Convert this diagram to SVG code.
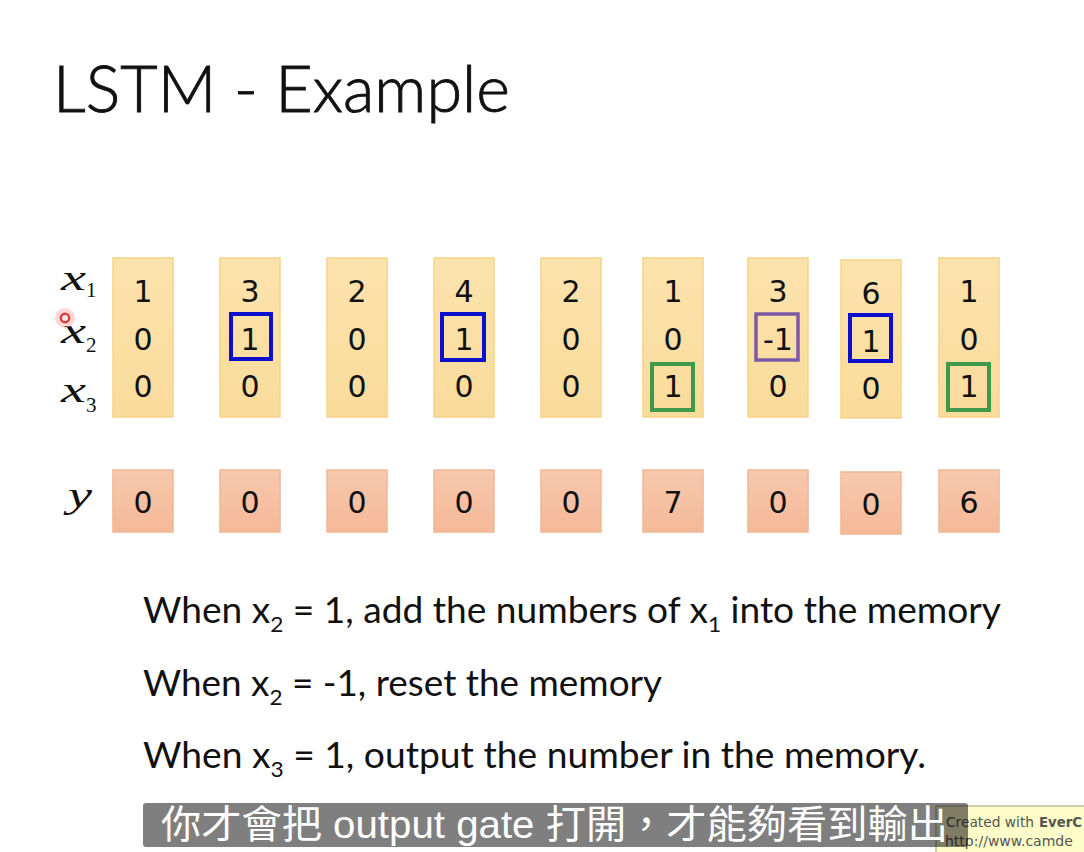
<svg xmlns="http://www.w3.org/2000/svg" width="1084" height="852" viewBox="0 0 1084 852">
<defs>
<linearGradient id="gy" x1="0" y1="0" x2="0" y2="1">
<stop offset="0" stop-color="#FCE3AD"/>
<stop offset="1" stop-color="#F9DB9B"/>
</linearGradient>
<linearGradient id="gs" x1="0" y1="0" x2="0" y2="1">
<stop offset="0" stop-color="#F8C8AD"/>
<stop offset="1" stop-color="#F4B998"/>
</linearGradient>
<style>
.cell{fill:url(#gy);stroke:#F6D384;stroke-width:1.5}
.ycell{fill:url(#gs);stroke:#EFB794;stroke-width:1.5}
.num{font-family:"DejaVu Sans","Liberation Sans",sans-serif;font-size:30px;fill:#111;text-anchor:middle}
.hb{fill:none;stroke:#0A10CC;stroke-width:4}
.hg{fill:none;stroke:#3C9A4A;stroke-width:4}
.hp{fill:none;stroke:#7E58A8;stroke-width:3.5}
.lab{font-family:"Liberation Serif",serif;font-style:italic;font-size:36px;fill:#111}
.sub{font-family:"Liberation Serif",serif;font-style:normal;font-size:21px;fill:#111}
.rule{font-family:Lato,"Open Sans","Liberation Sans",sans-serif;font-size:36px;fill:#111}
.rs{font-size:22px}
.wm{font-family:"DejaVu Sans",sans-serif;font-size:14px;fill:#555}
</style>
</defs>
<rect width="1084" height="852" fill="#FFFFFF"/>
<text x="53" y="112" font-family="Lato,'Open Sans','Liberation Sans',sans-serif" font-weight="300" font-size="66" fill="#111" stroke="#111" stroke-width="0.9" textLength="457" lengthAdjust="spacingAndGlyphs">LSTM - Example</text>
<g id="labels">
<text class="lab" x="61" y="290" textLength="25" lengthAdjust="spacingAndGlyphs">x</text><text class="sub" x="86" y="297">1</text>
<text class="lab" x="61" y="343" textLength="25" lengthAdjust="spacingAndGlyphs">x</text><text class="sub" x="86" y="351.5">2</text>
<text class="lab" x="61" y="402" textLength="25" lengthAdjust="spacingAndGlyphs">x</text><text class="sub" x="86" y="411.5">3</text>
<text class="lab" x="68" y="507" textLength="24" lengthAdjust="spacingAndGlyphs">y</text>
</g>
<g id="col1"><rect class="cell" x="113" y="258" width="60" height="159"/><text class="num" x="143" y="302">1</text><text class="num" x="143" y="350">0</text><text class="num" x="143" y="397">0</text></g>
<g id="col2"><rect class="cell" x="220" y="258" width="60" height="159"/><text class="num" x="250" y="302">3</text><text class="num" x="250" y="350">1</text><text class="num" x="250" y="397">0</text><rect class="hb" x="231" y="314" width="40" height="45"/></g>
<g id="col3"><rect class="cell" x="327" y="258" width="60" height="159"/><text class="num" x="357" y="302">2</text><text class="num" x="357" y="350">0</text><text class="num" x="357" y="397">0</text></g>
<g id="col4"><rect class="cell" x="434" y="258" width="60" height="159"/><text class="num" x="464" y="302">4</text><text class="num" x="464" y="350">1</text><text class="num" x="464" y="397">0</text><rect class="hb" x="442" y="314" width="42" height="46"/></g>
<g id="col5"><rect class="cell" x="541" y="258" width="60" height="159"/><text class="num" x="571" y="302">2</text><text class="num" x="571" y="350">0</text><text class="num" x="571" y="397">0</text></g>
<g id="col6"><rect class="cell" x="643" y="258" width="60" height="159"/><text class="num" x="673" y="302">1</text><text class="num" x="673" y="350">0</text><text class="num" x="673" y="397">1</text><rect class="hg" x="652" y="364" width="41" height="46"/></g>
<g id="col7"><rect class="cell" x="748" y="258" width="60" height="159"/><text class="num" x="778" y="302">3</text><text class="num" x="778" y="350">-1</text><text class="num" x="778" y="397">0</text><rect class="hp" x="756" y="314" width="42" height="46"/></g>
<g id="col8"><rect class="cell" x="841" y="260" width="60" height="158"/><text class="num" x="871" y="304">6</text><text class="num" x="871" y="352">1</text><text class="num" x="871" y="399">0</text><rect class="hb" x="850" y="315" width="41" height="46"/></g>
<g id="col9"><rect class="cell" x="939" y="258" width="60" height="159"/><text class="num" x="969" y="302">1</text><text class="num" x="969" y="350">0</text><text class="num" x="969" y="397">1</text><rect class="hg" x="948" y="364" width="41" height="46"/></g>
<g id="y1"><rect class="ycell" x="113" y="470" width="60" height="62"/><text class="num" x="143" y="513">0</text></g>
<g id="y2"><rect class="ycell" x="220" y="470" width="60" height="62"/><text class="num" x="250" y="513">0</text></g>
<g id="y3"><rect class="ycell" x="327" y="470" width="60" height="62"/><text class="num" x="357" y="513">0</text></g>
<g id="y4"><rect class="ycell" x="434" y="470" width="60" height="62"/><text class="num" x="464" y="513">0</text></g>
<g id="y5"><rect class="ycell" x="541" y="470" width="60" height="62"/><text class="num" x="571" y="513">0</text></g>
<g id="y6"><rect class="ycell" x="643" y="470" width="60" height="62"/><text class="num" x="673" y="513">7</text></g>
<g id="y7"><rect class="ycell" x="748" y="470" width="60" height="62"/><text class="num" x="778" y="513">0</text></g>
<g id="y8"><rect class="ycell" x="841" y="472" width="60" height="62"/><text class="num" x="871" y="515">0</text></g>
<g id="y9"><rect class="ycell" x="939" y="470" width="60" height="62"/><text class="num" x="969" y="513">6</text></g>
<g id="pointer">
<circle cx="65" cy="318" r="10" fill="#F6A8A8" opacity="0.45"/>
<circle cx="65" cy="318" r="4.2" fill="#FBE8E8" stroke="#E03A3A" stroke-width="2.4"/>
</g>
<g id="rules">
<text class="rule" x="143" y="623" textLength="858" lengthAdjust="spacingAndGlyphs">When x<tspan class="rs" dy="9">2</tspan><tspan dy="-9"> = 1, add the numbers of x</tspan><tspan class="rs" dy="9">1</tspan><tspan dy="-9"> into the memory</tspan></text>
<text class="rule" x="143" y="696" textLength="519" lengthAdjust="spacingAndGlyphs">When x<tspan class="rs" dy="9">2</tspan><tspan dy="-9"> = -1, reset the memory</tspan></text>
<text class="rule" x="143" y="768" textLength="783" lengthAdjust="spacingAndGlyphs">When x<tspan class="rs" dy="9">3</tspan><tspan dy="-9"> = 1, output the number in the memory.</tspan></text>
</g>
<g id="watermark">
<rect x="936" y="806" width="160" height="50" fill="#FEFCC8" stroke="#BDBDA0" stroke-width="1.5"/>
<text class="wm" x="946" y="827" textLength="88" lengthAdjust="spacingAndGlyphs">Created with</text>
<text class="wm" x="1039" y="827" font-weight="bold" fill="#222" textLength="43" lengthAdjust="spacingAndGlyphs">EverC</text>
<text class="wm" x="945" y="846">http://www.camde</text>
</g>
<g id="subtitle">
<rect x="143" y="803" width="825" height="44" rx="3" fill="#000" opacity="0.5"/>
<text x="161" y="838" font-family="'Liberation Sans','Noto Sans CJK TC',sans-serif" font-size="39" fill="#FFFFFF" textLength="787" lengthAdjust="spacingAndGlyphs">你才會把 output gate 打開，才能夠看到輸出</text>
</g>
</svg>
